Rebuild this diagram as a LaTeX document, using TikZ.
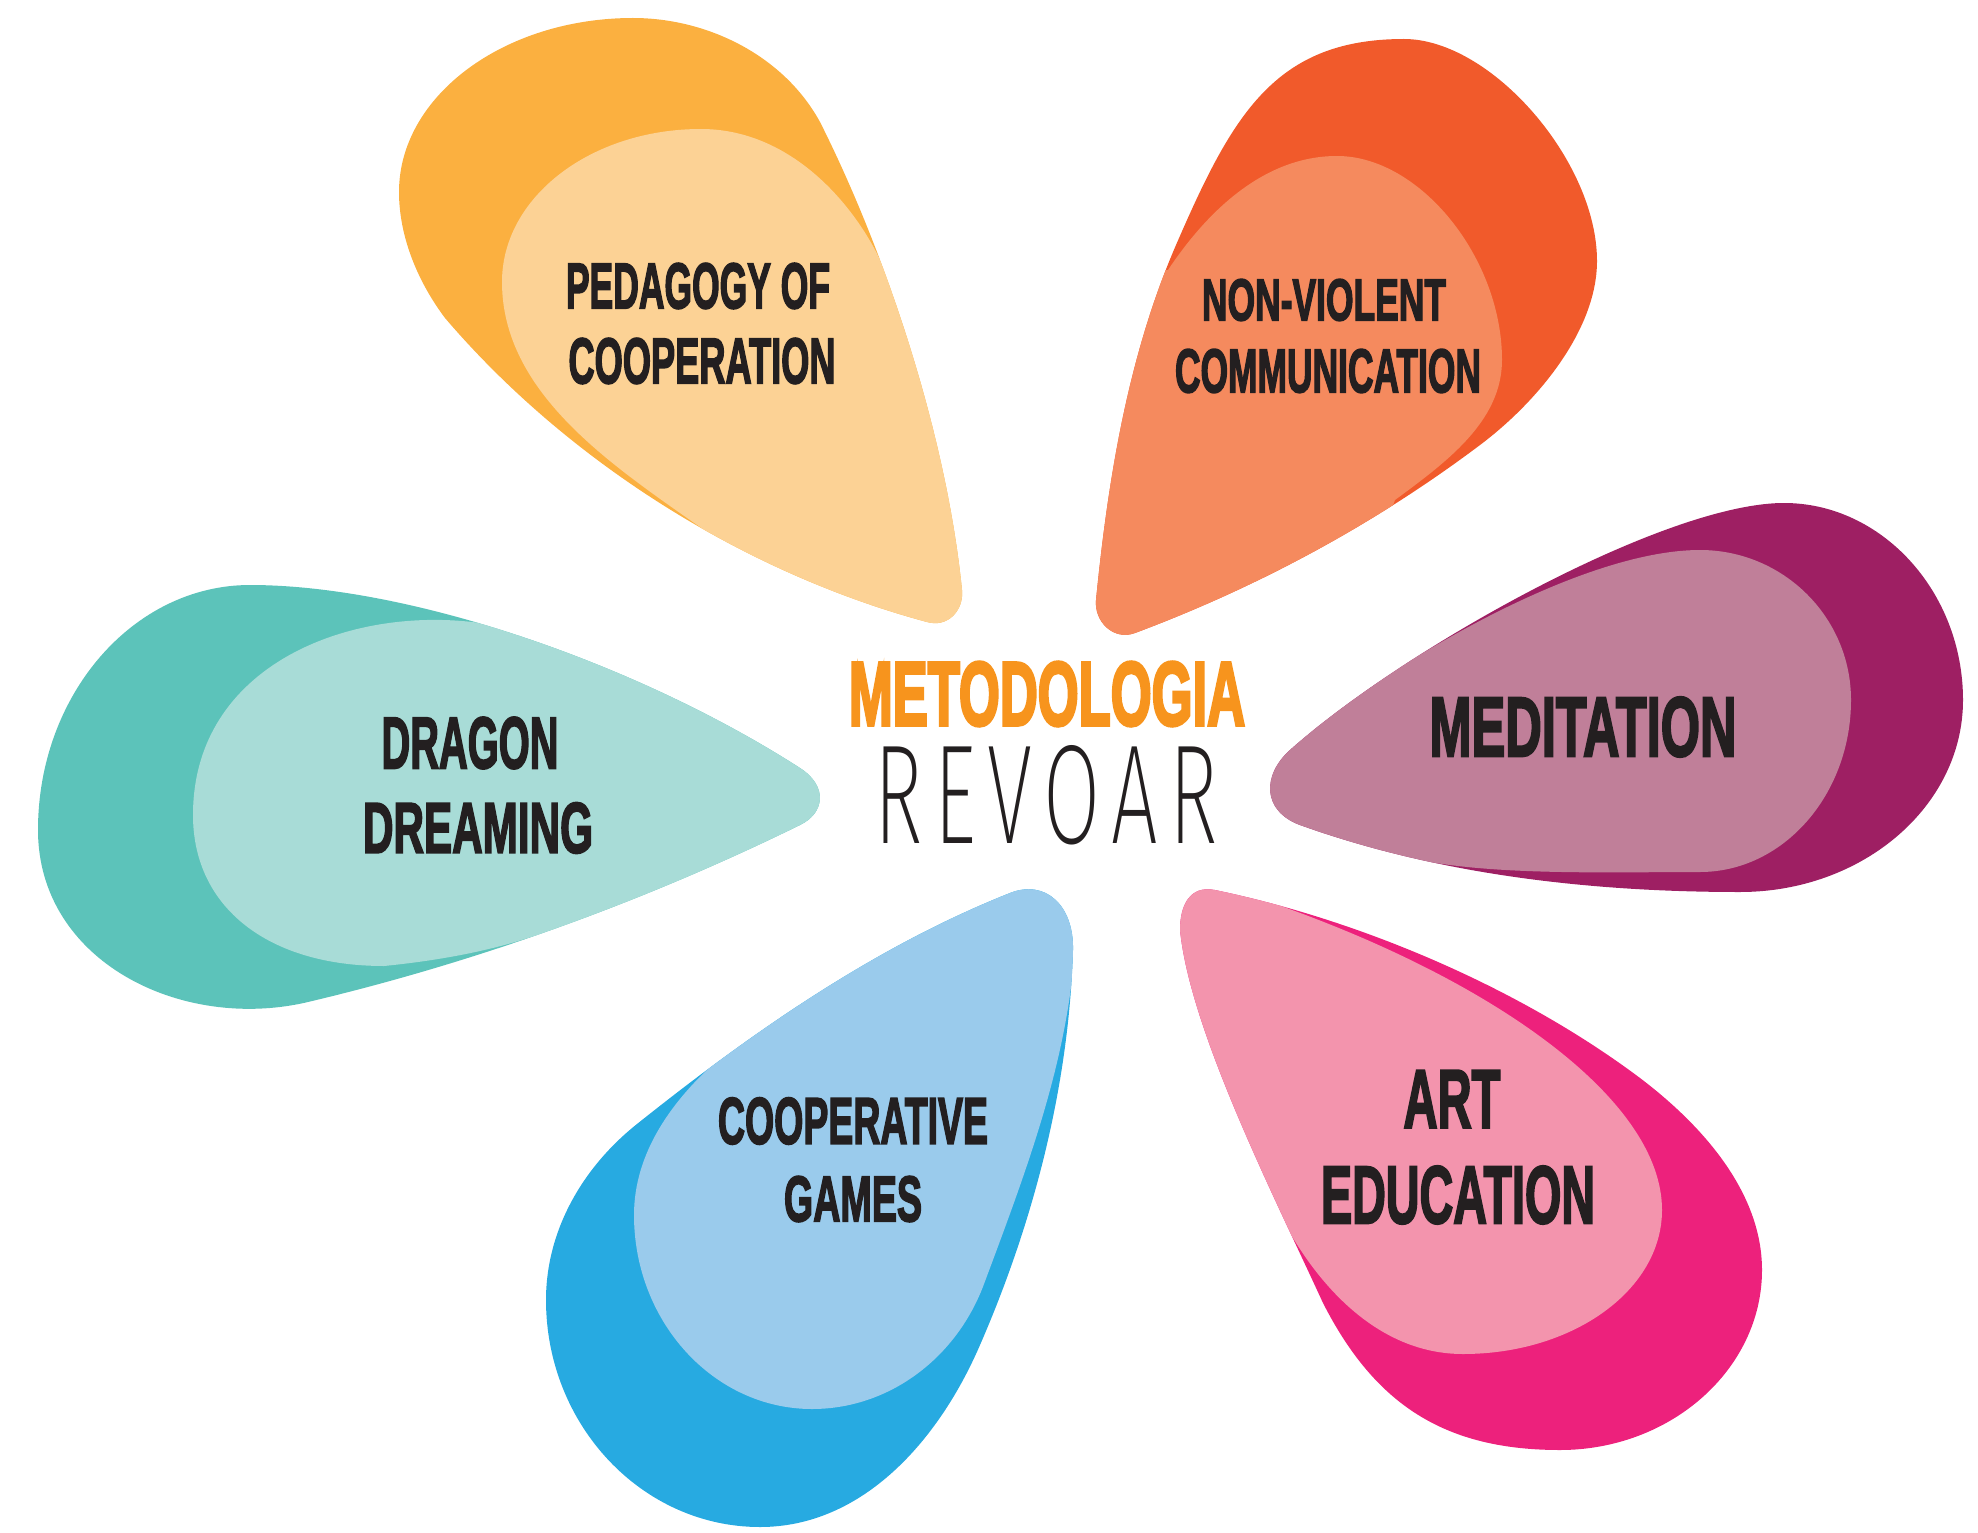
\documentclass[tikz,border=0pt]{standalone}
\usepackage{fontspec}
\usepackage{graphicx}
\setmainfont{Liberation Sans}
\newfontfamily\labfont{Liberation Sans}[UprightFont=* Bold, FakeBold=3]
\newfontfamily\titlefont{Liberation Sans}[UprightFont=* Bold, FakeBold=4]
\newfontfamily\thinfont{Fira Sans ExtraLight}[LetterSpace=14]
\definecolor{orangeD}{HTML}{FBB040}
\definecolor{orangeL}{HTML}{FCD295}
\definecolor{redD}{HTML}{F15A2B}
\definecolor{redL}{HTML}{F58A5E}
\definecolor{purpD}{HTML}{9E1F63}
\definecolor{purpL}{HTML}{C07F99}
\definecolor{pinkD}{HTML}{ED217C}
\definecolor{pinkL}{HTML}{F394AD}
\definecolor{blueD}{HTML}{27AAE1}
\definecolor{blueL}{HTML}{9ACBEC}
\definecolor{tealD}{HTML}{5CC3BA}
\definecolor{tealL}{HTML}{A8DCD7}
\definecolor{txtdark}{HTML}{231F20}
\definecolor{titleor}{HTML}{F7941D}
\newcommand{\plab}[3]{\resizebox{#1pt}{#2pt}{\labfont #3}}
\tikzset{lab/.style={inner sep=0pt, outer sep=0pt, text=txtdark}}
\begin{document}
\begin{tikzpicture}[x=1pt,y=-1pt]
\useasboundingbox (0,0) rectangle (1978,1533);

% ---------- orange petal ----------
\path[save path=\orangeP] (633,18) .. controls (708,18) and (784,56) .. (820,122)
 .. controls (883,247) and (946,430) .. (962,590)
 .. controls (964,610) and (948,628) .. (927,622)
 .. controls (745,573) and (568,462) .. (445,318)
 .. controls (418,282) and (399,237) .. (399,192)
 .. controls (399,96) and (504,18) .. (633,18) -- cycle;
\fill[orangeD, use path=\orangeP];
\begin{scope}
\clip[use path=\orangeP];
\fill[orangeL] (745,565) -- (700,527) .. controls (610,464) and (502,392) .. (502,282)
 .. controls (502,197) and (591,129) .. (701,129)
 .. controls (810,129) and (880,240) .. (893,295)
 -- (1100,295) -- (1100,720) -- (745,720) -- cycle;
\end{scope}

% ---------- red petal ----------
\path[save path=\redP] (1404,39) .. controls (1491,39) and (1597,161) .. (1597,261)
 .. controls (1597,331) and (1536,403) .. (1480,445)
 .. controls (1375,524) and (1258,587) .. (1135,633)
 .. controls (1114,641) and (1094,622) .. (1096,600)
 .. controls (1108,479) and (1128,356) .. (1176,245)
 .. controls (1232,116) and (1274,39) .. (1404,39) -- cycle;
\fill[redD, use path=\redP];
\begin{scope}
\clip[use path=\redP];
\fill[redL] (1168,270) .. controls (1208,210) and (1265,156) .. (1337,156)
 .. controls (1420,156) and (1502,258) .. (1502,360)
 .. controls (1502,422) and (1445,463) .. (1395,500)
 -- (1380,540) -- (1380,720) -- (1050,720) -- (1050,280) -- cycle;
\end{scope}

% ---------- purple petal ----------
\path[save path=\purpP] (1784,503) .. controls (1882,503) and (1963,592) .. (1963,700)
 .. controls (1963,806) and (1863,892) .. (1740,892)
 .. controls (1592,892) and (1439,875) .. (1300,825)
 .. controls (1262,811) and (1262,775) .. (1290,750)
 .. controls (1402,650) and (1664,503) .. (1784,503) -- cycle;
\fill[purpD, use path=\purpP];
\begin{scope}
\clip[use path=\purpP];
\fill[purpL] (1305,735) .. controls (1414,647) and (1590,550) .. (1700,550)
 .. controls (1783,550) and (1851,617) .. (1851,700)
 .. controls (1851,795) and (1783,872) .. (1700,872)
 .. controls (1600,872) and (1460,877) .. (1385,851)
 -- (1300,848) -- (1200,848) -- (1200,735) -- cycle;
\end{scope}

% ---------- pink petal ----------
\path[save path=\pinkP] (1215,890) .. controls (1360,920) and (1520,988) .. (1640,1078)
 .. controls (1702,1125) and (1762,1192) .. (1762,1270)
 .. controls (1762,1369) and (1671,1450) .. (1560,1450)
 .. controls (1445,1450) and (1375,1405) .. (1323,1303)
 .. controls (1273,1194) and (1190,1030) .. (1180,930)
 .. controls (1180,905) and (1190,885) .. (1215,890) -- cycle;
\fill[pinkD, use path=\pinkP];
\begin{scope}
\clip[use path=\pinkP];
\fill[pinkL] (1281,906) .. controls (1495,982) and (1662,1100) .. (1662,1210)
 .. controls (1662,1290) and (1573,1354) .. (1463,1354)
 .. controls (1378,1354) and (1315,1285) .. (1277,1209)
 -- (1250,1205) -- (1100,1205) -- (1100,850) -- (1281,850) -- cycle;
\end{scope}

% ---------- blue petal ----------
\path[save path=\blueP] (1010,893) .. controls (1045,879) and (1074,905) .. (1073,950)
 .. controls (1069,1085) and (1034,1221) .. (980,1345)
 .. controls (939,1440) and (863,1527) .. (760,1527)
 .. controls (642,1527) and (546,1425) .. (546,1300)
 .. controls (546,1230) and (583,1167) .. (637,1124)
 .. controls (751,1033) and (874,947) .. (1010,893) -- cycle;
\fill[blueD, use path=\blueP];
\begin{scope}
\clip[use path=\blueP];
\fill[blueL] (720,1058) .. controls (673,1099) and (634,1152) .. (634,1215)
 .. controls (634,1322) and (714,1409) .. (812,1409)
 .. controls (890,1409) and (957,1357) .. (984,1284)
 .. controls (1022,1182) and (1062,1078) .. (1073,970)
 -- (1090,960) -- (1090,850) -- (720,850) -- cycle;
\end{scope}

% ---------- teal petal ----------
\path[save path=\tealP] (250,585) .. controls (410,585) and (638,664) .. (800,768)
 .. controls (828,786) and (825,813) .. (800,825)
 .. controls (643,902) and (477,962) .. (308,1002)
 .. controls (181,1032) and (38,961) .. (38,830)
 .. controls (38,695) and (133,585) .. (250,585) -- cycle;
\fill[tealD, use path=\tealP];
\begin{scope}
\clip[use path=\tealP];
\fill[tealL] (480,623) .. controls (350,605) and (193,665) .. (193,815)
 .. controls (193,908) and (269,966) .. (384,966)
 .. controls (434,961) and (487,952) .. (534,936)
 -- (600,940) -- (900,940) -- (900,600) -- (480,600) -- cycle;
\end{scope}

% ---------- labels ----------
\node[lab] (ped1) at (698,286) {\plab{264}{45}{PEDAGOGY OF}};
\node[lab] (ped2) at (702,361) {\plab{267}{45}{COOPERATION}};
\node[lab] (nvc1) at (1324,300) {\plab{244}{41}{NON-VIOLENT}};
\node[lab] (nvc2) at (1328,371) {\plab{306}{43}{COMMUNICATION}};
\node[lab] (med) at (1583,727) {\plab{307}{59}{MEDITATION}};
\node[lab] (art1) at (1452,1099) {\plab{97}{57}{ART}};
\node[lab] (art2) at (1458,1195) {\plab{274}{57}{EDUCATION}};
\node[lab] (coop1) at (853,1121) {\plab{270}{46}{COOPERATIVE}};
\node[lab] (coop2) at (853,1199) {\plab{138}{45}{GAMES}};
\node[lab] (drg1) at (470,743) {\plab{177}{51}{DRAGON}};
\node[lab] (drg2) at (478,828) {\plab{230}{50}{DREAMING}};
\node[lab, text=titleor] (title1) at (1047,694) {\resizebox{396pt}{63pt}{\titlefont METODOLOGIA}};
\node[lab] (title2) at (1046,795) {\resizebox{343pt}{98pt}{\thinfont REVOAR}};
\end{tikzpicture}
\end{document}
